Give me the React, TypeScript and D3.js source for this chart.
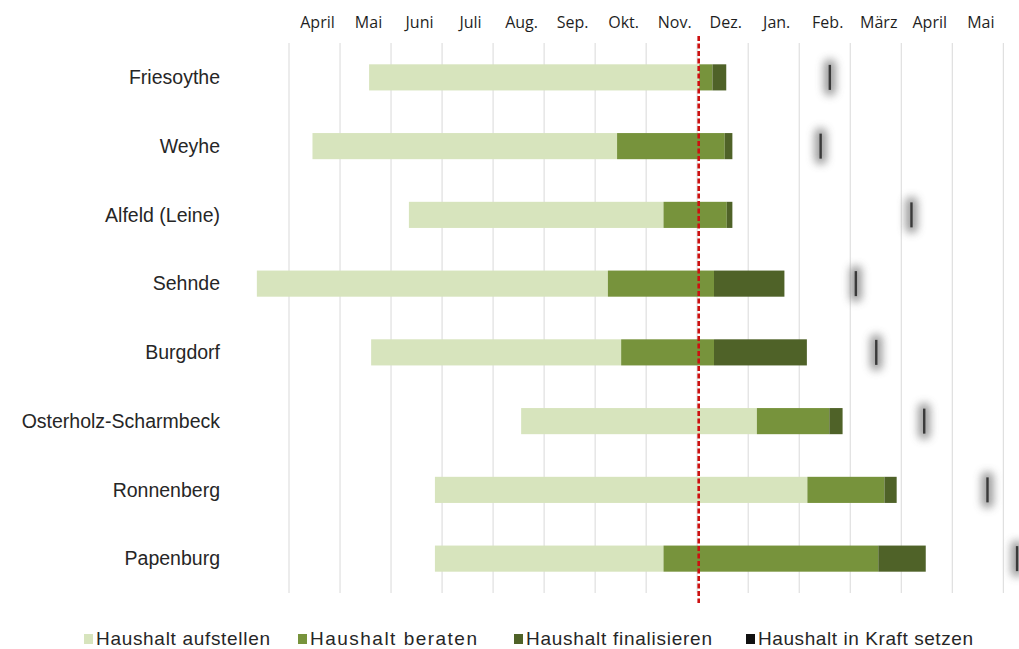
import React from "react";
import * as d3 from "d3";

// months counted from 1 April (0 = April start, 8 = 1 Dec, 14 = end of May next year)
const categories = [
  "Friesoythe",
  "Weyhe",
  "Alfeld (Leine)",
  "Sehnde",
  "Burgdorf",
  "Osterholz-Scharmbeck",
  "Ronnenberg",
  "Papenburg",
];
const aufstellenStart = [1.57, 0.46, 2.35, -0.63, 1.61, 4.55, 2.86, 2.86];
const beratenStart = [8.04, 6.43, 7.34, 6.25, 6.51, 9.17, 10.16, 7.34];
const finalisierenStart = [8.3, 8.54, 8.58, 8.33, 8.33, 10.59, 11.67, 11.55];
const finalisierenEnd = [8.57, 8.69, 8.69, 9.71, 10.15, 10.85, 11.91, 12.48];
const inKraft = [10.6, 10.42, 12.2, 11.11, 11.51, 12.45, 13.69, 14.27];

const monthLabels = [
  "April", "Mai", "Juni", "Juli", "Aug.", "Sep.", "Okt.",
  "Nov.", "Dez.", "Jan.", "Feb.", "März", "April", "Mai",
];
const today = 8.03;

const legendItems = [
  "Haushalt aufstellen",
  "Haushalt beraten",
  "Haushalt finalisieren",
  "Haushalt in Kraft setzen",
];
const colors = ["#d7e4bd", "#77933c", "#4f6228", "#111111"];

const width = 1019;
const height = 649;
const plotTop = 43;
const plotBottom = 593;

export default function App() {
  const x = d3.scaleLinear().domain([0, 14]).range([289, 1003.3]);
  const y = d3
    .scaleBand()
    .domain(categories)
    .range([plotTop, plotBottom])
    .paddingInner(0.62)
    .paddingOuter(0.31);
  const bw = y.bandwidth();

  const segments = categories.flatMap((c, i) => [
    { c, from: aufstellenStart[i], to: beratenStart[i], color: colors[0] },
    { c, from: beratenStart[i], to: finalisierenStart[i], color: colors[1] },
    { c, from: finalisierenStart[i], to: finalisierenEnd[i], color: colors[2] },
  ]);

  // legend layout: square x, text start, text width
  const legendX = [84, 298, 514, 746];
  const legendW = [174, 167, 186, 215];

  return (
    <div style={{ position: "absolute", left: 0, top: 0 }}>
      <svg width={width} height={height} style={{ display: "block", background: "#fff" }}>
        <defs>
          <filter id="glow" x="-3" y="-1" width="7" height="3">
            <feGaussianBlur stdDeviation="4" />
          </filter>
        </defs>

        {/* gridlines */}
        {d3.range(0, 15).map((m) => (
          <line
            key={m}
            x1={x(m)}
            x2={x(m)}
            y1={plotTop}
            y2={plotBottom}
            stroke="#d9d9d9"
            strokeWidth={1}
          />
        ))}

        {/* month labels */}
        {monthLabels.map((lab, i) => (
          <text
            key={i}
            x={x(i + 0.5) + 3}
            y={28}
            textAnchor="middle"
            fontFamily="'Open Sans', sans-serif"
            fontSize={16}
            fill="#1f1f1f"
          >
            {lab}
          </text>
        ))}

        {/* bars */}
        {segments.map((s, i) => (
          <rect
            key={i}
            x={x(s.from)}
            y={y(s.c)}
            width={x(s.to) - x(s.from)}
            height={bw}
            fill={s.color}
          />
        ))}

        {/* in Kraft markers */}
        {categories.map((c, i) => (
          <g key={c} transform={`translate(${x(inKraft[i])},${(y(c) ?? 0) + bw / 2})`}>
            <rect x={-6} y={-18} width={12} height={36} rx={5} fill="#8a8a8a" opacity={0.85} filter="url(#glow)" />
            <rect x={-1.2} y={-12.5} width={2.4} height={25} fill="#3a3a3a" />
          </g>
        ))}

        {/* today line */}
        <line
          x1={x(today)}
          x2={x(today)}
          y1={36}
          y2={603}
          stroke="#cc1111"
          strokeWidth={2.6}
          strokeDasharray="5,2.5"
        />

        {/* category labels */}
        {categories.map((c) => (
          <text
            key={c}
            x={220}
            y={(y(c) ?? 0) + bw / 2}
            dy="0.35em"
            textAnchor="end"
            fontFamily="'Liberation Sans', Arial, sans-serif"
            fontSize={19.5}
            fill="#262626"
          >
            {c}
          </text>
        ))}

        {/* legend */}
        {legendItems.map((lab, i) => (
          <g key={lab} transform={`translate(${legendX[i]},0)`}>
            <rect x={0} y={634} width={9} height={10} fill={colors[i]} />
            <text
              x={12}
              y={645}
              fontFamily="'Liberation Sans', Arial, sans-serif"
              fontSize={19}
              fill="#262626"
              textLength={legendW[i]}
              lengthAdjust="spacing"
            >
              {lab}
            </text>
          </g>
        ))}
      </svg>
    </div>
  );
}
